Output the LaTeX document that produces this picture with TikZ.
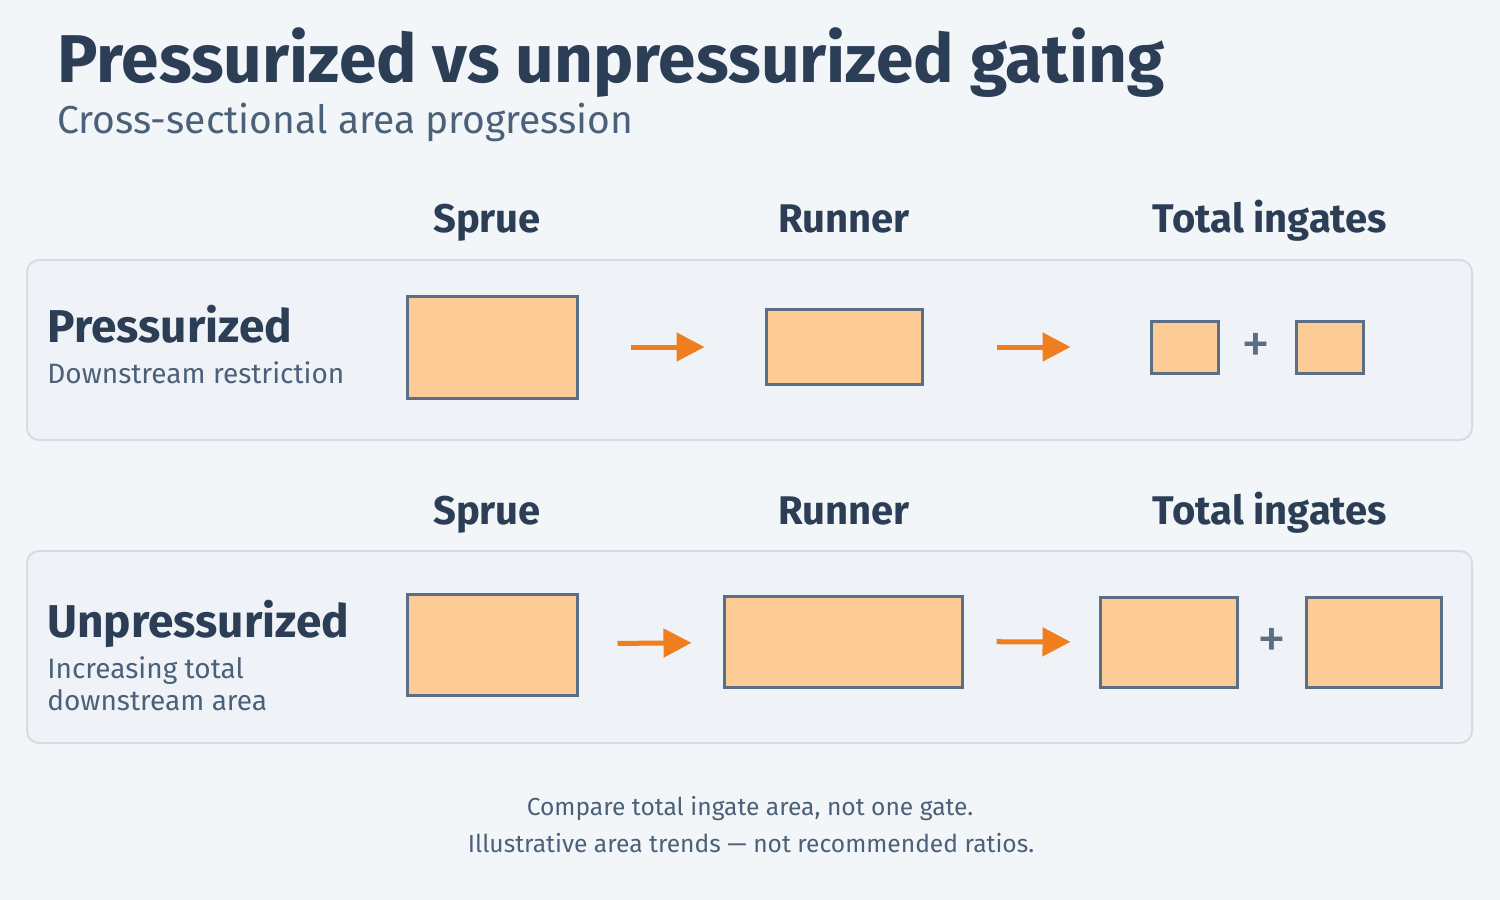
\documentclass[tikz,border=0pt]{standalone}
\usepackage{fontspec}
\setmainfont{Fira Sans}
\usetikzlibrary{arrows.meta,positioning}
\definecolor{bgcol}{HTML}{F3F6F9}
\definecolor{panelfill}{HTML}{EFF3F7}
\definecolor{panelline}{HTML}{D4DDE6}
\definecolor{titlecol}{HTML}{2C3E56}
\definecolor{subcol}{HTML}{4B6079}
\definecolor{boxfill}{HTML}{FCCB96}
\definecolor{boxline}{HTML}{5A6E86}
\definecolor{flowcol}{HTML}{F07E1E}

\begin{document}
\begin{tikzpicture}[x=0.5pt,y=-0.5pt,
  panel/.style={draw=panelline, fill=panelfill, line width=1pt, rounded corners=6pt, inner sep=0pt},
  area/.style={draw=boxline, fill=boxfill, line width=1.5pt, inner sep=0pt},
  flow/.style={draw=flowcol, line width=2.5pt, -{Triangle[length=14pt,width=14pt]}},
  colhead/.style={font=\fontsize{20}{24}\selectfont\bfseries, text=titlecol, anchor=base},
  rowhead/.style={font=\fontsize{23}{26}\selectfont\bfseries, text=titlecol, anchor=base west, inner sep=0pt},
  rownote/.style={font=\fontsize{14}{16}\selectfont, text=subcol, anchor=base west, inner sep=0pt, align=left},
  plus/.style={font=\fontsize{29}{29}\selectfont\mdseries, text=boxline, inner sep=0pt},
  foot/.style={font=\fontsize{12.3}{14}\selectfont, text=subcol, anchor=base}]

% canvas
\fill[bgcol] (0,0) rectangle (1500,900);
\useasboundingbox (0,0) rectangle (1500,900);

% title
\node[anchor=base west, inner sep=0pt, text=titlecol, font=\fontsize{33.8}{40}\selectfont\bfseries] (title) at (57,82) {Pressurized vs unpressurized gating};
\node[anchor=base west, inner sep=0pt, text=subcol, font=\fontsize{19.5}{22}\selectfont] (subtitle) at (57,133) {Cross-sectional area progression};

% pressurized row
\node[colhead] (h1a) at (487,232) {Sprue};
\node[colhead] (h1b) at (844,232) {Runner};
\node[colhead] (h1c) at (1270,232) {Total ingates};
\node[panel, minimum width=722.5pt, minimum height=90pt] (p1) at (749.5,350) {};
\node[rowhead] (l1) at (47,342) {Pressurized};
\node[rownote] (n1) at (47,383) {Downstream restriction};

\node[area, minimum width=85pt, minimum height=51pt] (s1) at (492,347) {};
\node[area, minimum width=78pt, minimum height=37.5pt] (r1) at (844,347) {};
\node[area, minimum width=33.5pt, minimum height=26pt] (g1a) at (1184.5,347) {};
\node[area, minimum width=33.5pt, minimum height=26pt] (g1b) at (1329.5,347) {};
\node[plus] (pl1) at (1256,348) {+};

\draw[flow, shorten <=26pt, shorten >=30pt] (s1) -- (r1);
\draw[flow, shorten <=36.5pt, shorten >=39.5pt] (r1) -- (g1a);

% unpressurized row
\node[colhead] (h2a) at (487,524) {Sprue};
\node[colhead] (h2b) at (844,524) {Runner};
\node[colhead] (h2c) at (1270,524) {Total ingates};
\node[panel, minimum width=722.5pt, minimum height=96pt] (p2) at (749.5,647) {};
\node[rowhead] (l2) at (47,637) {Unpressurized};
\node[rownote] (n2) at (47,710) {Increasing total\\downstream area};

\node[area, minimum width=85pt, minimum height=50.5pt] (s2) at (492,644.5) {};
\node[area, minimum width=119pt, minimum height=45.5pt] (r2) at (843,641.5) {};
\node[area, minimum width=68.5pt, minimum height=45pt] (g2a) at (1168.5,642) {};
\node[area, minimum width=67.5pt, minimum height=45pt] (g2b) at (1373.5,642) {};
\node[plus] (pl2) at (1272,643) {+};

\draw[flow, shorten <=19.5pt, shorten >=15.5pt] (s2) -- (r2);
\draw[flow, shorten <=16.5pt, shorten >=14pt] (r2) -- (g2a);

% footnote
\node[foot] (f1) at (750,815) {Compare total ingate area, not one gate.};
\node[foot] (f2) at (751,852) {Illustrative area trends — not recommended ratios.};

\end{tikzpicture}
\end{document}
